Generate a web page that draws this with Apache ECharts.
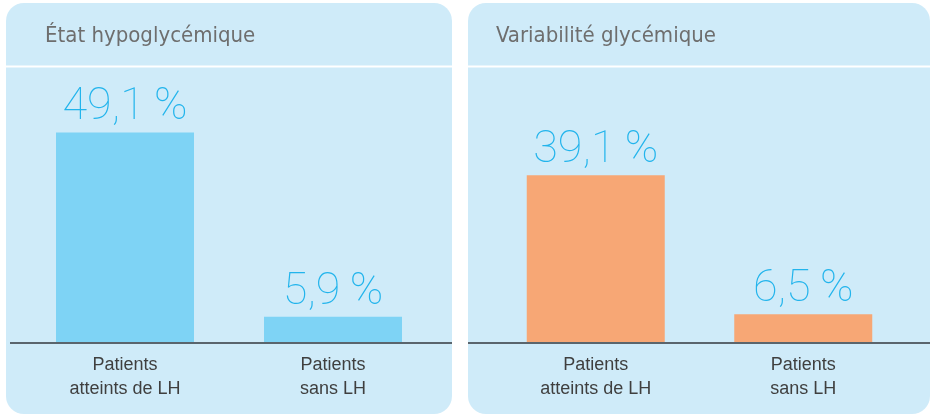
<!DOCTYPE html>
<html>
<head>
<meta charset="utf-8">
<script src="https://cdn.jsdelivr.net/npm/echarts@6/dist/echarts.min.js"></script>
<style>
  html, body { margin: 0; padding: 0; background: #fff; }
  #box1 { width: 930px; height: 414px; }
</style>
</head>
<body>
<div id="box1"></div>
<script>
const titles = ['État hypoglycémique', 'Variabilité glycémique'];
const categories = ['Patients\natteints de LH', 'Patients\nsans LH'];
const hypoValues = [49.1, 5.9];
const variabValues = [39.1, 6.5];

let box1 = document.querySelector('#box1');
let myChart1 = echarts.init(box1);

function fmt(p) {
    return String(p.value).replace('.', ',') + '\u2009%';
}

let panelColor = '#cfebf9';
let titleStyle = {
    fontFamily: '"DejaVu Sans Condensed", "Liberation Sans", sans-serif',
    fontWeight: 'normal',
    fontSize: 22,
    color: '#6e6e6e'
};
let labelStyle = {
    show: true,
    position: 'top',
    distance: 2,
    formatter: fmt,
    color: '#22b4ec',
    fontFamily: 'Roboto',
    fontWeight: 100,
    fontSize: 45
};

let option1 = {
    backgroundColor: '#fff',
    animation: false,
    title: [
        { text: titles[0], left: 40, top: 20, textStyle: titleStyle },
        { text: titles[1], left: 491, top: 20, textStyle: titleStyle }
    ],
    graphic: [
        { type: 'rect', z: -10, shape: { x: 6, y: 3, width: 446, height: 411, r: 18 }, style: { fill: panelColor } },
        { type: 'rect', z: -10, shape: { x: 468, y: 3, width: 462, height: 411, r: 18 }, style: { fill: panelColor } },
        { type: 'line', z: -9, shape: { x1: 6, y1: 66.5, x2: 452, y2: 66.5 }, style: { stroke: '#fff', lineWidth: 2 } },
        { type: 'line', z: -9, shape: { x1: 468, y1: 66.5, x2: 930, y2: 66.5 }, style: { stroke: '#fff', lineWidth: 2 } },
        { type: 'line', z: 100, shape: { x1: 10, y1: 343, x2: 452, y2: 343 }, style: { stroke: '#5a656d', lineWidth: 2 } },
        { type: 'line', z: 100, shape: { x1: 468, y1: 343, x2: 930, y2: 343 }, style: { stroke: '#5a656d', lineWidth: 2 } }
    ],
    grid: [
        { left: 21, width: 416, top: 86, bottom: 72 },
        { left: 492, width: 415, top: 86, bottom: 72 }
    ],
    xAxis: [0, 1].map(function (i) {
        return {
            type: 'category',
            gridIndex: i,
            data: categories,
            axisLine: { show: false },
            axisTick: { show: false },
            axisLabel: {
                margin: 11,
                fontFamily: 'Liberation Sans',
                fontSize: 18,
                lineHeight: 24,
                color: '#3f3f3f'
            }
        };
    }),
    yAxis: [0, 1].map(function (i) {
        return {
            type: 'value',
            gridIndex: i,
            min: 0,
            max: 60,
            show: false
        };
    }),
    series: [
        {
            type: 'bar',
            xAxisIndex: 0,
            yAxisIndex: 0,
            barWidth: 138,
            data: hypoValues,
            itemStyle: { color: '#7ed3f5' },
            label: labelStyle
        },
        {
            type: 'bar',
            xAxisIndex: 1,
            yAxisIndex: 1,
            barWidth: 138,
            data: variabValues,
            itemStyle: { color: '#f7a775' },
            label: labelStyle
        }
    ]
};
myChart1.setOption(option1);
</script>
</body>
</html>
